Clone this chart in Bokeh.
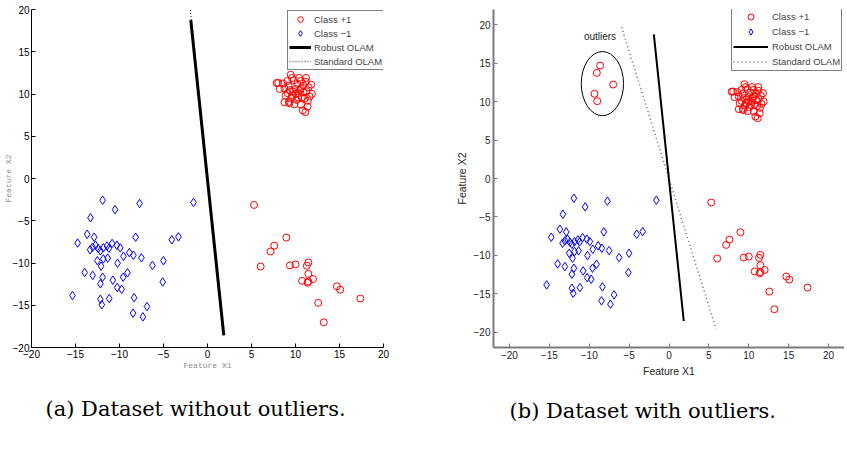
from bokeh.plotting import figure
from bokeh.layouts import row
from bokeh.models import FixedTicker, Title, Legend, LegendItem, Range1d
from bokeh.core.properties import value
from bokeh.embed import file_html
from bokeh.resources import INLINE

# ---------------- data ----------------
tick_values = [-20, -15, -10, -5, 0, 5, 10, 15, 20]
tick_labels = ["\u221220", "\u221215", "\u221210", "\u22125", "0", "5", "10", "15", "20"]

# Class +1 : upper-right cluster
pos_cluster_x = [9.46, 8.04, 8.58, 9.08, 9.83, 10.62, 11.17, 11.79, 8.21, 8.75, 9.37, 10.0, 10.62,
                 11.25, 11.87, 8.87, 9.71, 10.29, 11.04, 8.75, 9.25, 9.87, 10.62, 11.37, 10.83, 11.12,
                 7.85, 9.2, 9.6, 10.2, 10.9, 9.7, 10.3, 10.9, 11.5, 9.5, 10.1, 10.7, 11.4, 9.1, 10.5,
                 11.6, 10.0, 9.3, 11.2, 10.4]
pos_cluster_y = [12.28, 11.32, 11.24, 11.54, 11.63, 11.54, 11.45, 11.11, 10.59, 10.67, 10.46, 10.59, 10.67,
                 10.33, 10.02, 9.81, 9.81, 9.59, 9.46, 9.02, 9.07, 8.76, 8.72, 8.50, 8.07, 7.85,
                 11.3, 11.0, 11.9, 11.2, 11.0, 10.3, 10.1, 10.2, 10.8, 9.5, 9.3, 9.6, 9.2, 10.1, 10.5,
                 9.7, 10.0, 8.9, 11.9, 11.9]
# Class +1 : lower-right group
pos_tail_x = [5.29, 8.96, 7.58, 7.17, 6.04, 9.37, 10.0, 11.46, 11.29, 11.46, 10.75, 11.99, 11.37,
              11.46, 14.71, 15.08, 17.37, 12.58, 13.21]
pos_tail_y = [-3.13, -6.99, -7.95, -8.64, -10.42, -10.29, -10.16, -9.94, -10.33, -11.29, -12.11, -11.90,
              -12.33, -12.20, -12.76, -13.16, -14.20, -14.72, -17.02]
# Class -1
neg_x = [-11.92, -7.72, -1.59, -10.51, -13.30, -13.67, -12.88, -8.17, -14.76, -4.05, -3.30,
         -13.05, -12.72, -13.34, -12.42, -12.17, -11.84, -11.42, -11.2, -10.84, -10.30, -9.92,
         -12.51, -11.84, -12.09, -11.34, -10.22, -9.55, -8.88, -8.42, -7.51, -6.26, -5.01,
         -13.96, -13.05, -11.92, -12.17, -10.76, -9.59, -9.09, -10.26, -9.76, -5.09,
         -15.34, -12.17, -12.01, -11.17, -8.34, -6.88, -8.46, -7.34]
neg_y = [-2.57, -2.96, -2.83, -3.69, -4.65, -6.60, -6.95, -6.95, -7.64, -7.25, -6.91,
         -8.12, -7.90, -8.43, -8.30, -8.56, -8.21, -7.99, -8.25, -7.69, -7.90, -8.21,
         -9.73, -9.51, -10.38, -9.42, -10.03, -9.21, -8.77, -9.08, -9.38, -10.29, -9.73,
         -11.12, -11.46, -11.68, -12.46, -12.03, -11.68, -11.16, -12.90, -13.11, -12.24,
         -13.85, -14.29, -14.94, -14.20, -14.11, -15.15, -15.93, -16.37]
# Outliers (panel b only, labelled class +1)
outlier_x = [-8.63, -9.05, -7.0, -9.34, -9.0]
outlier_y = [14.70, 13.75, 12.23, 11.02, 10.07]

# Separating lines
robust_x = [-1.9, 1.85]
robust_y = [18.75, -18.55]
standard_a_x = [-2.05, 1.85]
standard_a_y = [21.0, -18.6]
standard_b_x = [-5.95, 5.9]
standard_b_y = [19.7, -19.6]

# Outlier ellipse and note
ellipse_cx, ellipse_cy, ellipse_w, ellipse_h = [-8.35], [12.35], [5.3], [8.35]
note_x, note_y, note_text = [-8.65], [18.5], ["outliers"]

captions = ["(a) Dataset without outliers.", "(b) Dataset with outliers."]
legend_labels = ["Class +1", "Class \u22121", "Robust OLAM", "Standard OLAM"]

label_map = {v: t for v, t in zip(tick_values, tick_labels)}
pos_x = pos_cluster_x + pos_tail_x
pos_y = pos_cluster_y + pos_tail_y

FIG_H = 440
FRAME_H = 338
TOP = 9


def base_fig(xr, yr, width, left, right, frame_w):
    p = figure(width=width, height=FIG_H, x_range=Range1d(*xr), y_range=Range1d(*yr),
               frame_width=frame_w, frame_height=FRAME_H,
               min_border_left=left, min_border_right=right, min_border_top=TOP,
               min_border_bottom=FIG_H - TOP - FRAME_H,
               output_backend="svg", toolbar_location=None, title=None)
    p.xgrid.visible = False
    p.ygrid.visible = False
    p.outline_line_color = None
    p.background_fill_color = "white"
    p.border_fill_color = "white"
    return p


def style_axes(p, tick_size, tick_color, axis_color, axis_width, lab_font, lab_size, lab_color,
               x_lab_standoff, y_lab_standoff, tick_standoff):
    for ax in (p.xaxis[0], p.yaxis[0]):
        ax.ticker = FixedTicker(ticks=tick_values)
        ax.major_label_overrides = label_map
        ax.minor_tick_line_color = None
        ax.major_tick_in = 4
        ax.major_tick_out = 0
        ax.axis_line_color = axis_color
        ax.axis_line_width = axis_width
        ax.major_tick_line_color = axis_color
        ax.major_tick_line_width = 1
        ax.major_label_text_font = "Liberation Sans"
        ax.major_label_text_font_size = tick_size
        ax.major_label_text_color = tick_color
        ax.major_label_standoff = tick_standoff
        ax.axis_label_text_font = lab_font
        ax.axis_label_text_font_size = lab_size
        ax.axis_label_text_color = lab_color
        ax.axis_label_text_font_style = "normal"
    p.xaxis[0].axis_label_standoff = x_lab_standoff
    p.yaxis[0].axis_label_standoff = y_lab_standoff
    p.xaxis[0].axis_label = "Feature X1"
    p.yaxis[0].axis_label = "Feature X2"


def add_caption(p, text, offset, standoff):
    t = Title(text=text, align="left", offset=offset, standoff=standoff,
              text_font="DejaVu Serif", text_font_size="21px", text_font_style="normal",
              text_color="black")
    p.add_layout(t, "below")


def add_legend(p, renderers, x, y, pad, gh, gw, standoff, font_size):
    items = [LegendItem(label=l, renderers=r) for l, r in zip(legend_labels, renderers)]
    lg = Legend(items=items, location=(x, y), margin=0, padding=pad, spacing=0,
                glyph_height=gh, glyph_width=gw, label_height=gh, label_standoff=standoff,
                label_text_font="Liberation Sans", label_text_font_size=font_size,
                border_line_color="black", border_line_width=1.2,
                background_fill_color="white", background_fill_alpha=1.0)
    p.add_layout(lg)


# ---------------- panel (a) ----------------
pa = base_fig((-20, 20), (-20, 20), 420, 26, 42, 352)
style_axes(pa, "10px", "black", "black", 1, "Liberation Mono", "8px", "#8a8a8a", 0, -3, 2)
sa = pa.line(standard_a_x, standard_a_y, line_color="#555555", line_width=1.3, line_dash="1 2")
ra = pa.line(robust_x, robust_y, line_color="black", line_width=3)
ca = pa.scatter(pos_x, pos_y, marker="circle", size=7, line_color="red", fill_color=None, line_width=1)
da = pa.scatter(neg_x, neg_y, marker="diamond", size=8.5, line_color="blue", fill_color=None, line_width=1)
add_legend(pa, [[ca], [da], [ra], [sa]], 256, 277, 1, 14, 22, 3, "9.5px")
add_caption(pa, captions[0], 14, 45)

# ---------------- panel (b) ----------------
pb = base_fig((-22, 22), (-22, 22), 419, 68, 0, 351)
style_axes(pb, "10px", "#262626", "#7a7a7a", 2, "Liberation Sans", "10.5px", "#262626", 3, 3, 3)
sb = pb.line(standard_b_x, standard_b_y, line_color="#666666", line_width=1.5, line_dash="1 3")
rb = pb.line(robust_x, robust_y, line_color="black", line_width=2)
cb = pb.scatter(pos_x + outlier_x, pos_y + outlier_y, marker="circle", size=7, line_color="red",
                fill_color=None, line_width=1)
db = pb.scatter(neg_x, neg_y, marker="diamond", size=8.5, line_color="blue", fill_color=None, line_width=1)
pb.ellipse(x=ellipse_cx, y=ellipse_cy, width=ellipse_w, height=ellipse_h, fill_color=None,
           line_color="black", line_width=1)
pb.text(x=note_x, y=note_y, text=note_text, text_font=value("Liberation Sans"), text_font_size="10px",
        text_align="center", text_baseline="middle", text_color="#262626")
add_legend(pb, [[cb], [db], [rb], [sb]], 238, 276, 1, 15, 35, 4, "9.5px")
add_caption(pb, captions[1], 16, 34)

layout = row(pa, pb)
open("out.html", "w").write(file_html(layout, INLINE))
